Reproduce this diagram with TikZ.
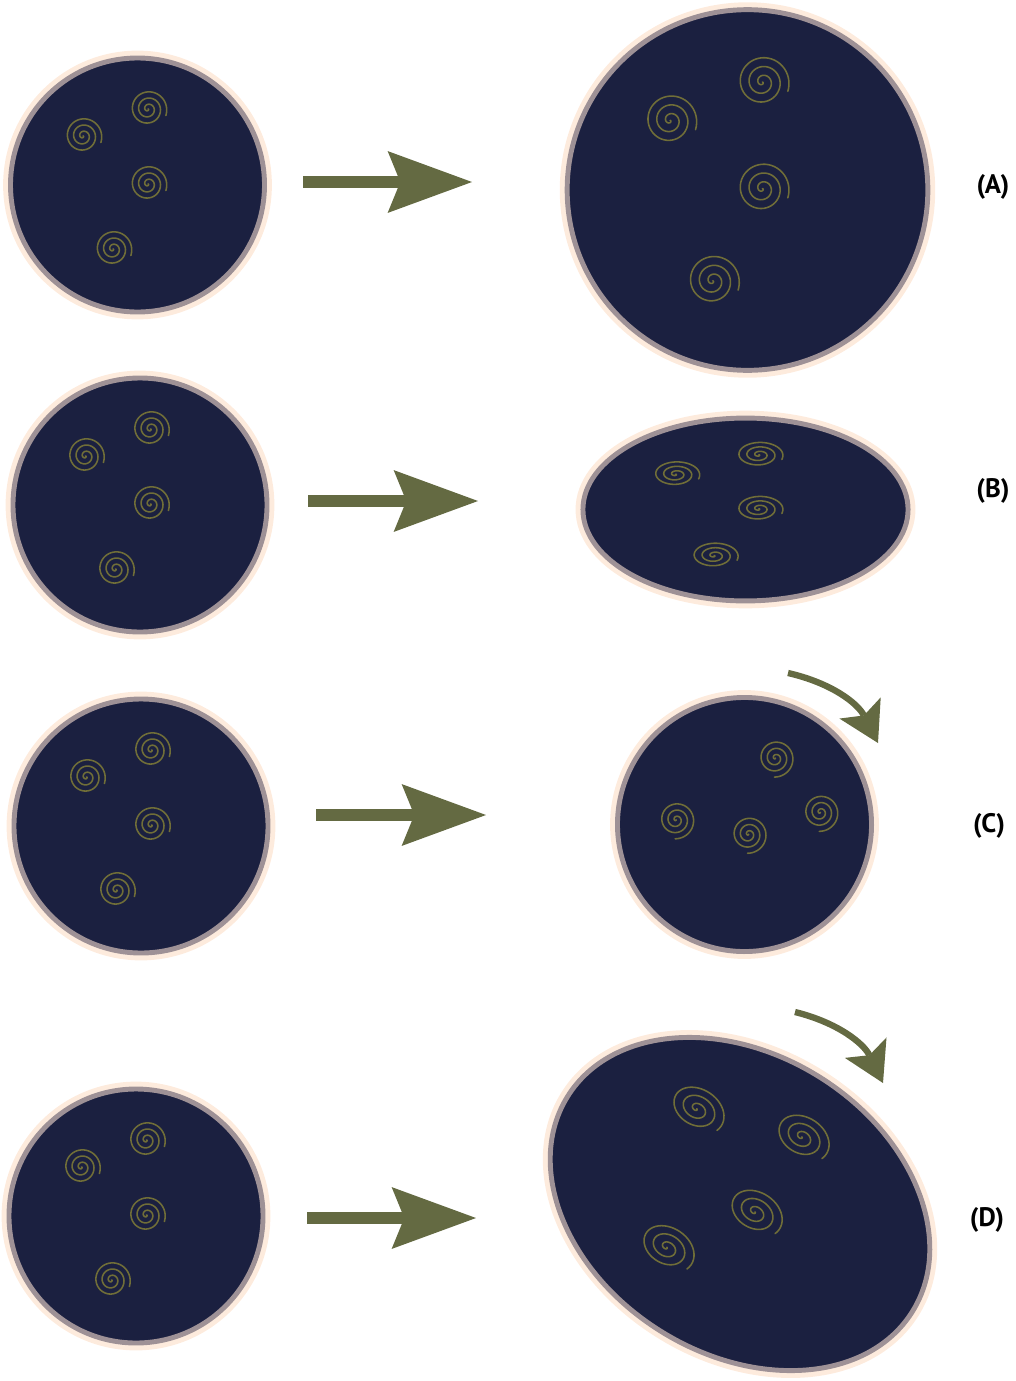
\documentclass[tikz,border=0pt]{standalone}
\usepackage{tikz}
\usetikzlibrary{arrows.meta}
\usepackage{xcolor}
\usepackage{fontspec}
\newfontfamily\tagfont{PT Sans}
\definecolor{CellNavy}{RGB}{27,32,64}
\definecolor{RimMauve}{RGB}{158,145,150}
\definecolor{RimPeach}{RGB}{253,235,221}
\definecolor{CoilOlive}{RGB}{112,110,56}
\definecolor{ArrowOlive}{RGB}{100,106,66}
\tikzset{
  cellbody/.style={fill=CellNavy,draw=RimMauve,line width=3.5pt,
    preaction={draw=RimPeach,line width=10.5pt}},
  coil/.style={draw=CoilOlive,line width=1.1pt,line cap=round},
  bigarrow/.style={-{Stealth[length=60pt,width=44pt,inset=9pt,line width=0pt]},
    line width=8.5pt,draw=ArrowOlive,fill=ArrowOlive},
  turnarrow/.style={-{Stealth[length=28pt,width=33pt,inset=6pt,line width=0pt]},
    line width=4.5pt,draw=ArrowOlive},
  tag/.style={font=\tagfont\bfseries\fontsize{19}{22}\selectfont},
  cell/.pic={
    \path[cellbody] (0,0) circle[radius=127];
    \foreach \cx/\cy in {10.5/-76,-54.5/-49,10.5/-1,-24.5/64}
      \draw[coil,shift={(\cx,\cy)}]
        plot[domain=0:1100,samples=150,smooth] (\x:{0.0173*\x});
  },
}

\begin{document}
\begin{tikzpicture}[x=0.025cm,y=-0.025cm]
  \useasboundingbox (0,0) rectangle (1016,1381);

  % cells before
  \pic at (137.5,185) {cell};
  \pic at (140,505) {cell};
  \pic at (141,826) {cell};
  \pic at (136,1216) {cell};

  % cells after: grown, squeezed, turned, turned and stretched
  \pic[scale=1.42] at (747.5,190) {cell};
  \pic[xscale=1.28,yscale=0.72] at (745.5,509.5) {cell};
  \pic[rotate=-73] at (744.5,824.5) {cell};
  \pic[rotate=-32,xscale=1.6,yscale=1.18] at (740,1204) {cell};

  % arrows between the two columns
  \coordinate (fromA) at (303,182);
  \coordinate (toA) at (472,182);
  \coordinate (fromB) at (308,501);
  \coordinate (toB) at (478,501);
  \coordinate (fromC) at (316,815);
  \coordinate (toC) at (486,815);
  \coordinate (fromD) at (307,1218);
  \coordinate (toD) at (476,1218);
  \draw[bigarrow] (fromA) -- (toA);
  \draw[bigarrow] (fromB) -- (toB);
  \draw[bigarrow] (fromC) -- (toC);
  \draw[bigarrow] (fromD) -- (toD);

  % turning arrows
  \coordinate (spinC0) at (788,673);
  \coordinate (spinC1) at (878,743);
  \coordinate (spinD0) at (795,1012);
  \coordinate (spinD1) at (883,1083);
  \draw[turnarrow] (spinC0) to[bend left=25] (spinC1);
  \draw[turnarrow] (spinD0) to[bend left=25] (spinD1);

  % row tags
  \node[tag] (tagA) at (993,187) {(A)};
  \node[tag] (tagB) at (993,491) {(B)};
  \node[tag] (tagC) at (989,826) {(C)};
  \node[tag] (tagD) at (987,1220) {(D)};
\end{tikzpicture}
\end{document}
